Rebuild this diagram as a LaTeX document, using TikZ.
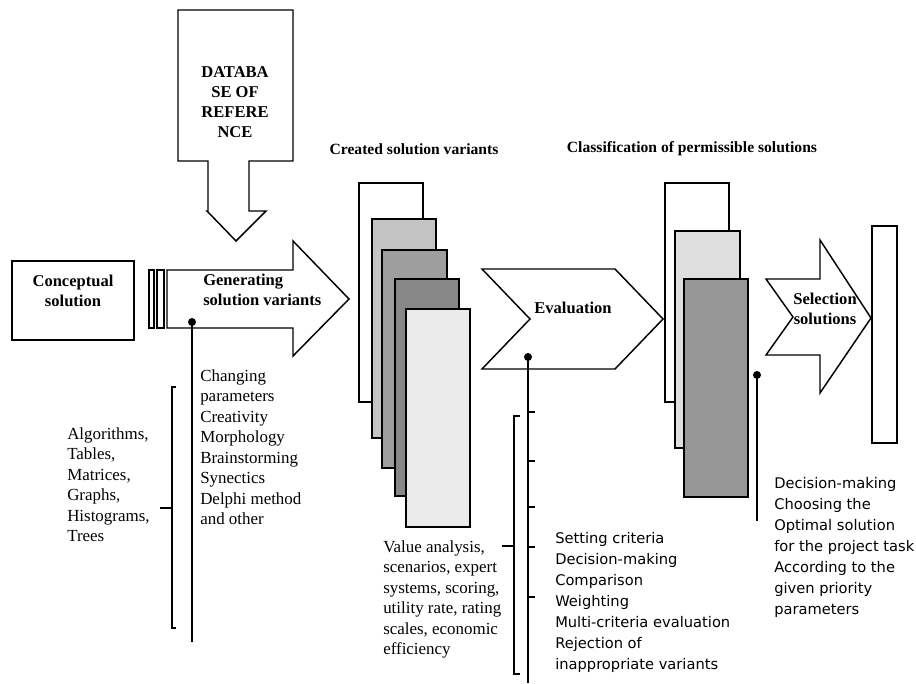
\documentclass[tikz,border=0pt]{standalone}
\usepackage{fontspec}
\setmainfont{Liberation Serif}
\newfontfamily\tahomafont{DejaVu Sans}
\usetikzlibrary{positioning}
\definecolor{stackB}{gray}{0.77}
\definecolor{stackC}{gray}{0.62}
\definecolor{stackD}{gray}{0.53}
\definecolor{stackE}{gray}{0.92}
\definecolor{classB}{gray}{0.87}
\definecolor{classC}{gray}{0.59}

\tikzset{
  blk/.style={draw=black, line width=1.1pt, line join=miter},
  lbl/.style={font=\bfseries\fontsize{12.4}{15}\selectfont, align=center, inner sep=0pt},
  ttl/.style={font=\bfseries\fontsize{11.7}{14}\selectfont, inner sep=0pt},
  serlist/.style={font=\fontsize{12.7}{15.4}\selectfont, align=left, inner sep=0pt, anchor=north west},
  sanlist/.style={font=\tahomafont\fontsize{11}{15.7}\selectfont, align=left, inner sep=0pt, anchor=north west},
  leader/.style={line width=1pt}
}

\begin{document}
\begin{tikzpicture}[x=0.75pt, y=-0.75pt]
                \useasboundingbox (0,0) rectangle (916,684);

                % 1. DATABASE (flecha hacia abajo)
                \draw[blk] (178,10) -- (293,10) -- (293,161) -- (249,161) -- (249,211) -- (266,211)
                           -- (236,241) -- (207,211) -- (208,211) -- (208,161) -- (178,161) -- cycle;
                \node[lbl, anchor=north] (dbtext) at (235,66) {DATABA\\SE OF\\REFERE\\NCE};

                % 2. CONCEPTUAL SOLUTION
                \draw[blk] (12,261) rectangle (134,340);
                \node[lbl] (concept) at (73,291) {Conceptual\\solution};

                % 3. GENERATING (flecha con barras)
                \draw[blk] (149,270) rectangle (154,328);
                \draw[blk] (157,270) rectangle (164,328);
                \draw[blk] (167,270) -- (293,270) -- (293,241) -- (349,299) -- (293,356) -- (293,328) -- (167,328) -- cycle;
                \node[lbl, align=left, anchor=north west] (gentext) at (203,274) {Generating\\solution variants};
                \coordinate (gendot) at (192,322);
                \coordinate (genend) at (192,642);
                \draw[leader] (gendot) -- (genend);
                \fill (gendot) circle (4);
                % llave de herramientas
                \draw[leader] (176,387) -- (172,387) -- (172,628) -- (176,628);
                \draw[leader] (160,508) -- (172,508);
                \node[serlist] (tools) at (67,427) {Algorithms,\\Tables,\\Matrices,\\Graphs,\\Histograms,\\Trees};
                \node[serlist] (methods) at (200,369) {Changing\\parameters\\Creativity\\Morphology\\Brainstorming\\Synectics\\Delphi method\\and other};

                % 4. CREATED SOLUTION VARIANTS (pila de hojas)
                \node[ttl] (created) at (414,149) {Created solution variants};
                \foreach \xa/\ya/\xb/\yb/\c in {359/183/423/402/white, 372/219/436/438/stackB,
                    382/250/447/468/stackC, 395/279/459/496/stackD, 406/309/470/527/stackE}
                    { \draw[blk, fill=\c] (\xa,\ya) rectangle (\xb,\yb); }
                \draw[leader] (520,416) -- (514,416) -- (514,674) -- (520,674);
                \draw[leader] (502,546) -- (514,546);
                \node[serlist] (valuetext) at (383,540) {Value analysis,\\scenarios, expert\\systems, scoring,\\utility rate, rating\\scales, economic\\efficiency};

                % 5. EVALUATION (chevron)
                \draw[blk] (482,269) -- (615,269) -- (663,319) -- (615,369) -- (482,369) -- (530,319) -- cycle;
                \node[lbl] (evaltext) at (573,308) {Evaluation};
                \coordinate (evaldot) at (528,357);
                \coordinate (evalend) at (528,683);
                \draw[leader] (evaldot) -- (evalend);
                \fill (evaldot) circle (4);
                \foreach \y in {412,461,507,547,597} { \draw[leader] (528,\y) -- (535,\y); }
                \node[sanlist] (evalsteps) at (555,532) {Setting criteria\\Decision-making\\Comparison\\Weighting\\Multi-criteria evaluation\\Rejection of\\inappropriate variants};

                % 6. CLASSIFICATION (pila de soluciones permitidas)
                \node[ttl] (classif) at (692,149) {Classification of permissible solutions};
                \foreach \xa/\ya/\xb/\yb/\c in {665/183/729/402/white, 675/231/740/448/classB, 684/279/748/497/classC}
                    { \draw[blk, fill=\c] (\xa,\ya) rectangle (\xb,\yb); }
                \coordinate (classdot) at (757,375);
                \coordinate (classend) at (757,521);
                \draw[leader] (classdot) -- (classend);
                \fill (classdot) circle (4);
                \node[sanlist] (decision) at (774,477) {Decision-making\\Choosing the\\Optimal solution\\for the project task\\According to the\\given priority\\parameters};

                % 7. SELECTION + resultado
                \draw[blk] (766,279) -- (820,279) -- (820,240) -- (871,318) -- (820,393) -- (820,355) -- (766,355) -- (793,317) -- cycle;
                \node[lbl] (seltext) at (825,309) {Selection\\solutions};
                \draw[blk] (872,226) rectangle (897,443);

\end{tikzpicture}
\end{document}
